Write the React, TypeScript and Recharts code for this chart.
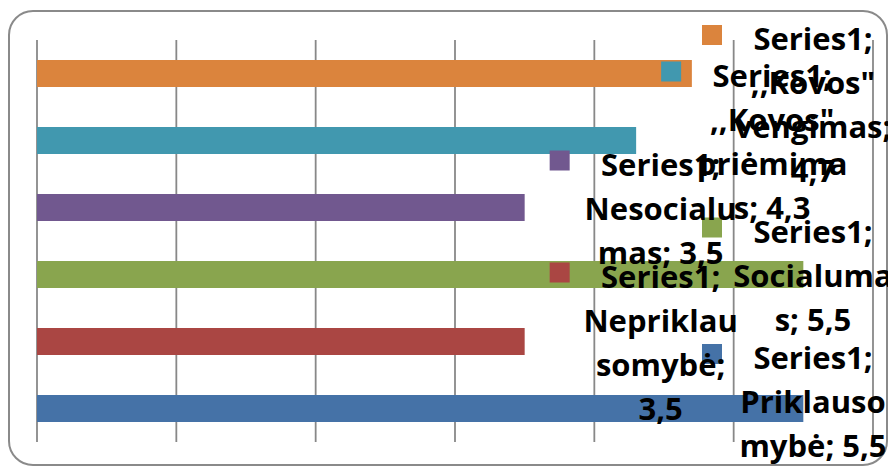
import { Bar, BarChart, CartesianGrid, Cell, LabelList, XAxis, YAxis } from "recharts";

// Excel order: first category sits at the bottom
const categories = [
    "Priklausomybė",
    "Nepriklausomybė",
    "Socialumas",
    "Nesocialumas",
    ",,Kovos\" priėmimas",
    ",,Kovos\" vengimas",
];
const values = [5.5, 3.5, 5.5, 3.5, 4.3, 4.7];
const xTicks = [0, 1, 2, 3, 4, 5, 6];
// data label text as Excel wrapped it
const labelLines = [
    ["Series1;", "Priklauso", "mybė; 5,5"],
    ["Series1;", "Nepriklau", "somybė;", "3,5"],
    ["Series1;", "Socialuma", "s; 5,5"],
    ["Series1;", "Nesocialu", "mas; 3,5"],
    ["Series1;", ",,Kovos\"", "priėmima", "s; 4,3"],
    ["Series1;", ",,Kovos\"", "vengimas;", "4,7"],
];
const colors = ["#4572A7", "#AA4643", "#89A54E", "#71588F", "#4198AF", "#DB843D"];

const data = categories.map((name, i) => ({ name, value: values[i] }));

const LINE = 44;

const DataLabel = (props: any) => {
    const { x, y, width, height, index } = props;
    const lines = labelLines[index];
    const xEnd = x + width;
    const yc = y + height / 2;
    const cx = Math.min(xEnd + 136, 813);
    let first = yc - (lines.length - 1) * 22;
    first = Math.max(first, 38);
    first = Math.min(first, 445 - (lines.length - 1) * LINE);
    return (
        <g>
            <rect x={cx - 111} y={first - 13} width={20} height={20} fill={colors[index]} />
            {lines.map((t, k) => (
                <text
                    key={k}
                    x={cx}
                    y={first + k * LINE}
                    textAnchor="middle"
                    dominantBaseline="central"
                    fontFamily="'Open Sans', sans-serif"
                    fontWeight="bold"
                    fontSize={31}
                    fill="#000"
                >
                    {t}
                </text>
            ))}
        </g>
    );
};

const App = () => (
    <div style={{ position: "absolute", left: 0, top: 0, width: 888, height: 468, overflow: "hidden" }}>
        <div
            style={{
                position: "absolute",
                left: 8,
                top: 10,
                width: 880,
                height: 456,
                border: "2px solid #8a8a8a",
                borderRadius: 25,
                boxSizing: "border-box",
            }}
        />
        <div style={{ position: "absolute", left: 0, top: 0 }}>
            <BarChart
                width={888}
                height={468}
                data={data}
                layout="vertical"
                margin={{ top: 40, right: 15, bottom: 26, left: 37 }}
            >
                <CartesianGrid horizontal={false} stroke="#888888" strokeWidth={1.8} />
                <XAxis type="number" domain={[0, 6]} ticks={xTicks} hide />
                <YAxis type="category" dataKey="name" reversed hide />
                <Bar dataKey="value" barSize={27} isAnimationActive={false}>
                    {data.map((d, i) => (
                        <Cell key={d.name} fill={colors[i]} />
                    ))}
                    <LabelList dataKey="value" content={DataLabel} />
                </Bar>
            </BarChart>
        </div>
    </div>
);

export default App;
